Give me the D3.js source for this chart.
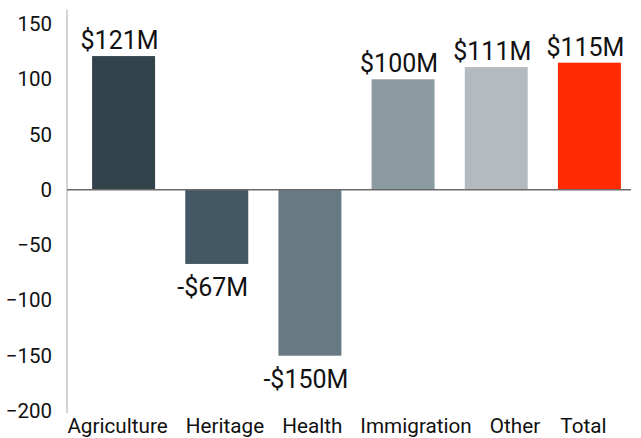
<!DOCTYPE html>
<html>
<head>
<meta charset="utf-8">
<script src="https://cdn.jsdelivr.net/npm/d3@7"></script>
<style>
  html, body { margin: 0; padding: 0; background: #fff; }
  svg { display: block; font-family: Roboto, "Noto Sans", sans-serif; }
</style>
</head>
<body>
<svg id="chart" width="641" height="438"></svg>
<script>
// Budget change by department, in millions of dollars
const categories = ["Agriculture", "Heritage", "Health", "Immigration", "Other", "Total"];
const values = [121, -67, -150, 100, 111, 115];
const barColors = ["#33434c", "#435865", "#677a82", "#8c9aa2", "#b3bbc1", "#ff2a00"];
const yTicks = [150, 100, 50, 0, -50, -100, -150, -200];

const svg = d3.select("#chart");

const x = d3.scaleBand()
  .domain(categories)
  .range([77, 636])
  .paddingInner(0.324)
  .paddingOuter(0.162);

const y = d3.scaleLinear()
  .domain([-200, 150])
  .range([411, 24]);

const axisX = 67;

// vertical axis line
svg.append("line")
  .attr("x1", axisX).attr("x2", axisX)
  .attr("y1", y(163)).attr("y2", y(-202))
  .attr("stroke", "#a8a8a8")
  .attr("stroke-width", 1);

// y tick labels (no tick marks)
const yAxis = d3.axisLeft(y).tickValues(yTicks).tickSize(0).tickPadding(15);
const gy = svg.append("g")
  .attr("transform", `translate(${axisX},0)`)
  .call(yAxis);
gy.select(".domain").remove();
gy.selectAll("text")
  .attr("font-size", 20.5)
  .attr("font-family", "Roboto, sans-serif")
  .attr("fill", "#111");

// bars
svg.append("g").selectAll("rect")
  .data(categories)
  .join("rect")
  .attr("x", d => x(d))
  .attr("width", x.bandwidth())
  .attr("y", (d, i) => Math.min(y(values[i]), y(0)))
  .attr("height", (d, i) => Math.abs(y(values[i]) - y(0)))
  .attr("fill", (d, i) => barColors[i]);

// zero baseline
svg.append("line")
  .attr("x1", axisX).attr("x2", 631)
  .attr("y1", y(0)).attr("y2", y(0))
  .attr("stroke", "#6a6a6a")
  .attr("stroke-width", 1.5);

// value labels
const fmt = v => (v < 0 ? "-$" : "$") + Math.abs(v) + "M";
svg.append("g").selectAll("text")
  .data(categories)
  .join("text")
  .attr("x", d => x(d) + x.bandwidth() / 2 - 4)
  .attr("y", (d, i) => values[i] >= 0 ? y(values[i]) - 7 : y(values[i]) + 32)
  .attr("text-anchor", "middle")
  .attr("font-size", 25)
  .attr("fill", "#111")
  .text((d, i) => fmt(values[i]));

// category labels: centred under their bars, pushed right when they would
// crowd the previous label
const catLabels = svg.append("g").selectAll("text")
  .data(categories)
  .join("text")
  .attr("y", 433)
  .attr("text-anchor", "middle")
  .attr("font-size", 20.7)
  .attr("fill", "#111")
  .text(d => d);

const minGap = 18;
let prevRight = -Infinity;
catLabels.each(function (d) {
  const w = this.getComputedTextLength();
  let cx = x(d) + x.bandwidth() / 2 - 6;
  if (cx - w / 2 < prevRight + minGap) cx = prevRight + minGap + w / 2;
  d3.select(this).attr("x", cx);
  prevRight = cx + w / 2;
});
</script>
</body>
</html>
